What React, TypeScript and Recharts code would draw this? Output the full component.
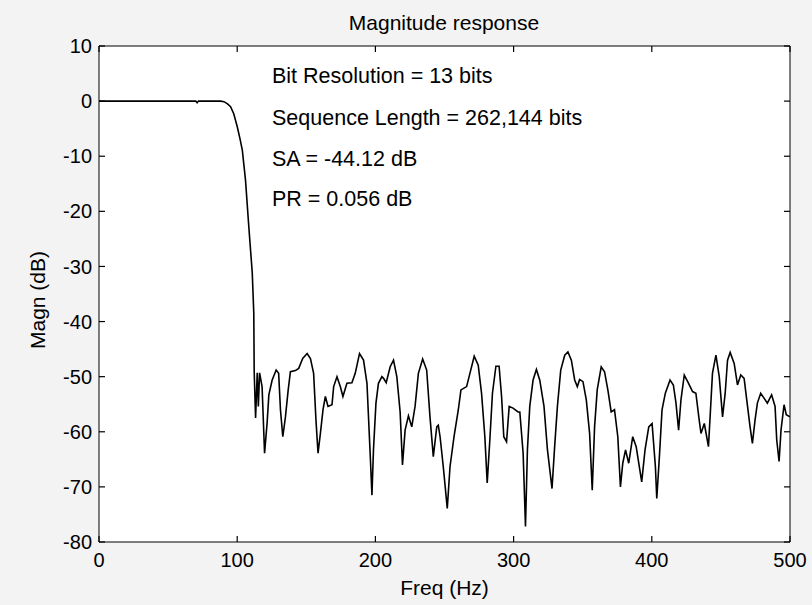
import React from 'react';
import { LineChart, Line, XAxis, YAxis, CartesianGrid, Label, ReferenceLine } from 'recharts';

const freqs = [
  0, 20, 40, 60, 70, 71, 72, 80, 88, 90.4, 93, 95.2, 97.5, 100, 102, 103.7, 106, 108.4, 110.9, 112,
  112.3, 113.3, 114.5, 115.3, 116.2, 118, 119.8, 121.7, 122.9, 125.3, 128.2, 130, 131.3, 133, 134.9,
  136.9, 138.5, 142.1, 144.5, 147.4, 150.6, 153, 155.3, 157, 158.5, 160.2, 162.1, 163.8, 165.7, 168.6,
  169.8, 172.2, 174.6, 176.5, 179.4, 183, 185.4, 188.5, 191.4, 193.9, 196.2, 197.5, 198.6, 200.4, 202.2,
  204.7, 205.9, 207.8, 210.7, 213.1, 215.5, 217.9, 219.6, 221.5, 223.9, 226.3, 228.7, 231.1, 234.2,
  237.1, 239.5, 241.9, 244.4, 245.5, 246.8, 249.1, 252, 254, 256.9, 260, 261.9, 266, 268.4, 271.5,
  274.4, 276.8, 279.2, 280.9, 282.8, 284.7, 287.2, 289.5, 291.3, 292.9, 294.9, 296.8, 299.6, 303.2,
  304.5, 306.9, 308.6, 310, 311.7, 314.1, 316.5, 318.9, 322, 324.5, 327.8, 329.7, 331.7, 334.1, 337,
  339.3, 341.8, 344.2, 346.1, 347.8, 350.2, 352.6, 355, 356.9, 358.6, 360.5, 363.4, 365.8, 368.2,
  370.6, 373, 375.4, 377.3, 379, 381, 383.3, 386.2, 388.7, 392.7, 395.1, 397.8, 400.2, 402.6, 403.6,
  405.5, 407.4, 409.8, 413.2, 415.6, 417.5, 419.4, 421.1, 423.5, 426.6, 429.5, 431.9, 434.3, 435.6,
  438, 441, 442.8, 443.9, 446.4, 448.8, 451.2, 453.1, 454.8, 456.7, 459.6, 462, 464.4, 466.8, 468.7,
  471.1, 472.8, 474.7, 476.4, 478.8, 481.2, 483.6, 486.7, 489.2, 490.4, 492.1, 493.5, 495.7, 497.3, 500,
];

const magns = [
  0, 0, 0, 0, 0, -0.3, 0, 0, 0, -0.1, -0.5, -1, -2.3, -4.6, -6.8, -8.9, -14.3, -22.8, -31.2, -38.5,
  -49.1, -57.5, -49.3, -55.4, -49.3, -51.8, -63.9, -58.2, -53.3, -50.6, -48.8, -49.4, -56, -60.9, -57.3,
  -52.4, -49.1, -48.9, -48.5, -46.7, -45.8, -46.7, -49.4, -57.9, -63.9, -60.3, -56, -53.6, -55.4, -55.1,
  -51.8, -50, -51.8, -53.6, -51.2, -51.1, -49.4, -45.8, -47, -51.2, -63.9, -71.5, -63.3, -54.8, -51.2,
  -50, -50.3, -51.1, -48.2, -47, -50, -56.4, -66, -59.7, -57.1, -59.1, -55.4, -49.4, -46.8,
  -48.8, -57.3, -64.5, -59.1, -58.8, -60.9, -66.3, -73.9, -66.3, -60.9, -56, -52.4, -51.8, -49.4, -46.3,
  -47.9, -53, -60.9, -69.3, -61.5, -53, -48.1, -48.1, -53.6, -60.9, -61.8, -55.4, -55.7, -56.4,
  -56.4, -63.9, -77.2, -63.3, -55.4, -50.6, -48.7, -50.6, -55.4, -63.3, -70.3, -62.7, -55.4, -48.8, -46.1,
  -45.5, -47, -50.6, -51.8, -50.5, -50.9, -54.2, -60.3, -70.6, -59.1, -52.4, -48.2, -49.1, -52.4,
  -56.4, -56, -60.9, -70, -65.7, -63.3, -65.7, -60.9, -62.7, -69.1, -63.3, -59.1, -58.5, -66.3, -72.1,
  -64.5, -56, -53, -50.6, -51.5, -54.8, -59.7, -54.2, -49.7, -51.2, -52.7, -53, -57.9, -60.3,
  -58.5, -62.7, -54.5, -49.4, -46.1, -50, -57.3, -53, -47, -45.6, -47.6, -51.5, -49.7, -50.3, -54.2,
  -59.1, -62.1, -57.9, -54.8, -53, -53.9, -54.8, -53.3, -55.4, -61.5, -65.4, -59.7, -55.1, -56.9, -57.3,
];

const xTicks = [0, 100, 200, 300, 400, 500];
const yTicks = [-80, -70, -60, -50, -40, -30, -20, -10, 0, 10];
const titleText = 'Magnitude response';
const xLabel = 'Freq (Hz)';
const yLabel = 'Magn (dB)';
const notes = ['Bit Resolution = 13 bits', 'Sequence Length = 262,144 bits', 'SA = -44.12 dB', 'PR = 0.056 dB'];
const noteBaselines = [83, 124.5, 166, 206];

const X_MIN = 0;
const X_MAX = 500;
const Y_MIN = -80;
const Y_MAX = 10;

// layout
const CHART_W = 812;
const CHART_H = 605;
const MARGIN = { top: 46, right: 22, bottom: 3, left: 39 };
const X_AXIS_H = 60;
const Y_AXIS_W = 60;
const PLOT_W = CHART_W - MARGIN.left - Y_AXIS_W - MARGIN.right;
const PLOT_H = CHART_H - MARGIN.top - MARGIN.bottom - X_AXIS_H;
const X_TICK_MARGIN = 11;
const Y_TICK_MARGIN = 7;
const TICK_LEN = 6;
const TICK_COLOR = '#000';

const data = freqs.map((f, i) => ({ f, m: magns[i] }));

const FONT = '"Liberation Sans", Arial, Helvetica, sans-serif';

const XTick = (p: any) => {
  const { x, y, payload } = p;
  const axisY = y - X_TICK_MARGIN;
  const topY = axisY - PLOT_H;
  return (
    <g>
      <path d={`M${x},${axisY}L${x},${axisY - TICK_LEN}`} stroke={TICK_COLOR} strokeWidth={1.2} fill="none" />
      <path d={`M${x},${topY}L${x},${topY + TICK_LEN}`} stroke={TICK_COLOR} strokeWidth={1.2} fill="none" />
      <text x={x} y={y} dy="0.71em" textAnchor="middle" fontSize={20} fill="#000">
        {payload.value}
      </text>
    </g>
  );
};

const YTick = (p: any) => {
  const { x, y, payload } = p;
  const axisX = x + Y_TICK_MARGIN;
  const rightX = axisX + PLOT_W;
  return (
    <g>
      <path d={`M${axisX},${y}L${axisX + TICK_LEN},${y}`} stroke={TICK_COLOR} strokeWidth={1.2} fill="none" />
      <path d={`M${rightX},${y}L${rightX - TICK_LEN},${y}`} stroke={TICK_COLOR} strokeWidth={1.2} fill="none" />
      <text x={x} y={y} dy="0.355em" textAnchor="end" fontSize={20} fill="#000">
        {payload.value}
      </text>
    </g>
  );
};

export default function App() {
  return (
    <div
      style={{
        position: 'absolute',
        left: 0,
        top: 0,
        width: CHART_W,
        height: CHART_H,
        background: '#f3f3f3',
        fontFamily: FONT,
      }}
    >
      <LineChart width={CHART_W} height={CHART_H} data={data} margin={MARGIN}>
        <CartesianGrid xAxisId="b" yAxisId="l" fill="#ffffff" horizontal={false} vertical={false} />
        <XAxis
          xAxisId="b"
          dataKey="f"
          type="number"
          domain={[X_MIN, X_MAX]}
          ticks={xTicks}
          interval={0}
          allowDataOverflow
          orientation="bottom"
          height={X_AXIS_H}
          tickLine={false}
          tickSize={0}
          tickMargin={X_TICK_MARGIN}
          stroke="#000"
          tick={XTick}
        >
          <Label value={xLabel} position="insideBottom" offset={7} fill="#000" fontSize={21} />
        </XAxis>
        <YAxis
          yAxisId="l"
          type="number"
          domain={[Y_MIN, Y_MAX]}
          ticks={yTicks}
          interval={0}
          allowDataOverflow
          orientation="left"
          width={Y_AXIS_W}
          tickLine={false}
          tickSize={0}
          tickMargin={Y_TICK_MARGIN}
          stroke="#000"
          tick={YTick}
        >
          <Label
            content={(p: any) => {
              const vb = p.viewBox || { x: MARGIN.left, y: MARGIN.top, width: Y_AXIS_W, height: PLOT_H };
              const x = vb.x + 6;
              const y = vb.y + vb.height / 2 + 6;
              return (
                <text x={x} y={y} transform={`rotate(-90 ${x} ${y})`} textAnchor="middle" fontSize={21} fill="#000">
                  {yLabel}
                </text>
              );
            }}
          />
        </YAxis>
        <ReferenceLine xAxisId="b" yAxisId="l" y={Y_MAX} stroke="#000" strokeWidth={1} />
        <ReferenceLine xAxisId="b" yAxisId="l" x={X_MAX} stroke="#000" strokeWidth={1} />
        <Line
          xAxisId="b"
          yAxisId="l"
          dataKey="m"
          type="linear"
          stroke="#000"
          strokeWidth={1.6}
          dot={false}
          activeDot={false}
          isAnimationActive={false}
        />
      </LineChart>
      <svg
        width={CHART_W}
        height={CHART_H}
        style={{ position: 'absolute', left: 0, top: 0, pointerEvents: 'none' }}
      >
        <text x={444} y={30} textAnchor="middle" fontSize={21} fill="#000">
          {titleText}
        </text>
        {notes.map((n, i) => (
          <text key={n} x={272} y={noteBaselines[i]} fontSize={21.5} fill="#000">
            {n}
          </text>
        ))}
      </svg>
    </div>
  );
}
